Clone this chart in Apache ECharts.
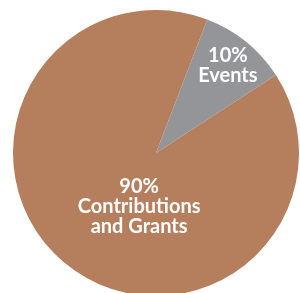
<!DOCTYPE html>
<html>
<head>
<meta charset="utf-8">
<script src="https://cdn.jsdelivr.net/npm/echarts@6/dist/echarts.min.js"></script>
<style>
  html, body { margin: 0; padding: 0; background: #fff; }
  #chart { width: 300px; height: 293px; }
</style>
</head>
<body>
<div id="chart"></div>
<script>
// 收入构成
const categories = ['Events', 'Contributions\nand Grants']
const values = [10, 90]
const colors = ['#939598', '#b57f5d']
// label nudges from the default inside spot
const labelShift = [[25, -30], [30, -4]]

const chart = echarts.init(document.getElementById('chart'))
chart.setOption({
  animation: false,
  series: [
    {
      type: 'pie',
      center: [156, 153],
      radius: 143,
      startAngle: 69,
      clockwise: true,
      silent: true,
      itemStyle: { borderWidth: 0 },
      label: {
        show: true,
        position: 'inside',
        formatter: '{c}%\n{b}',
        color: '#fff',
        fontFamily: 'Lato',
        fontWeight: 'bold',
        fontSize: 20,
        lineHeight: 20,
        align: 'center'
      },
      labelLine: { show: false },
      labelLayout: (params) => ({
        dx: labelShift[params.dataIndex][0],
        dy: labelShift[params.dataIndex][1]
      }),
      data: categories.map((name, i) => ({
        name,
        value: values[i],
        itemStyle: { color: colors[i] }
      }))
    }
  ]
})
</script>
</body>
</html>
